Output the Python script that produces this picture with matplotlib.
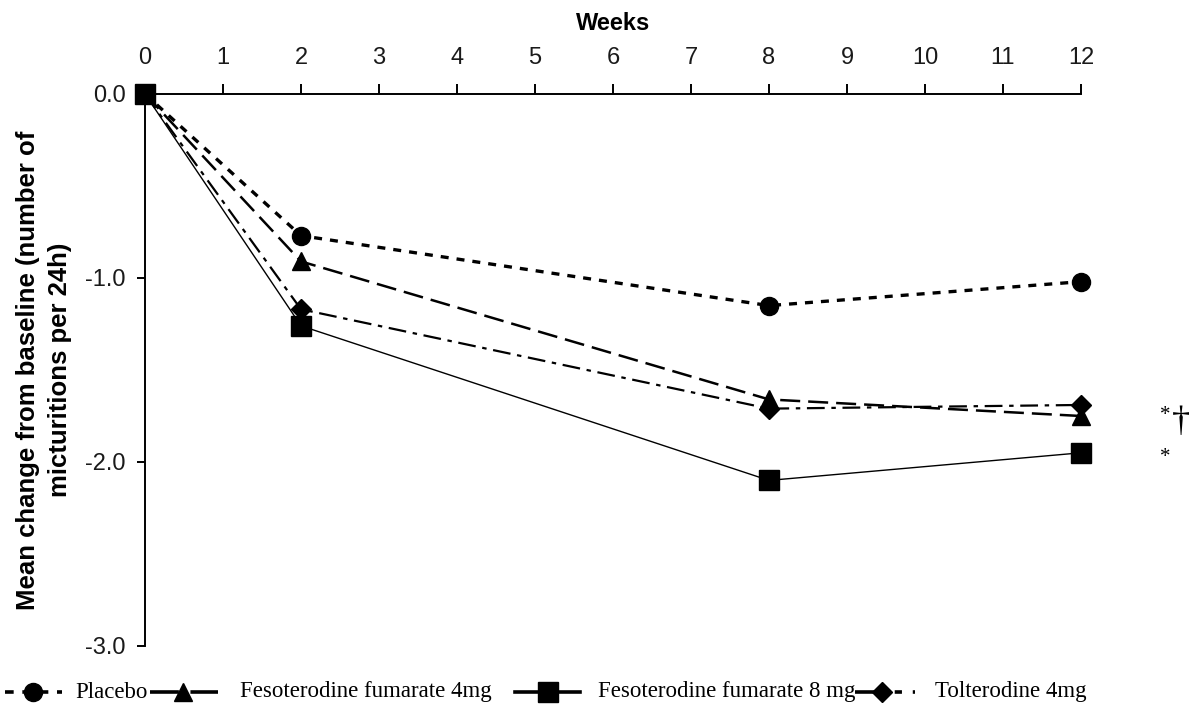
import matplotlib.pyplot as plt
from matplotlib.lines import Line2D

weeks = [0, 2, 8, 12]
placebo = [0.0, -0.77, -1.15, -1.02]
feso4 = [0.0, -0.91, -1.66, -1.75]
feso8 = [0.0, -1.26, -2.10, -1.95]
tolt4 = [0.0, -1.17, -1.71, -1.69]

xticks = list(range(13))
yticks = [0.0, -1.0, -2.0, -3.0]
ytick_labels = ['0.0', '-1.0', '-2.0', '-3.0']

# name, values, linestyle, marker, markersize, linewidth
series = [
    ('Placebo', placebo, (0, (2.4, 2.4)), 'o', 13, 2.4),
    ('Fesoterodine fumarate 4mg', feso4, (0, (8, 3.2)), '^', 13, 1.8),
    ('Fesoterodine fumarate 8 mg', feso8, '-', 's', 15, 1.0),
    ('Tolterodine 4mg', tolt4, (0, (8, 3, 2, 3)), 'D', 10, 1.6),
]

W, H = 1194, 709
fig = plt.figure(figsize=(W / 100, H / 100), dpi=100)
ax = fig.add_axes([145 / W, 1 - 646 / H, 936 / W, 552 / H])

for name, vals, ls, mk, ms, lw in series:
    ax.plot(weeks, vals, color='black', linestyle=ls, linewidth=lw,
            marker=mk, markersize=ms, clip_on=False, zorder=3)

ax.set_xlim(0, 12)
ax.set_ylim(-3.0, 0.0)
ax.xaxis.tick_top()
ax.xaxis.set_label_position('top')
ax.set_xticks(xticks)
ax.set_yticks(yticks)
ax.set_yticklabels(ytick_labels)
for s in ['bottom', 'right']:
    ax.spines[s].set_visible(False)
for s in ['top', 'left']:
    ax.spines[s].set_linewidth(1.4)
ax.tick_params(axis='x', direction='out', length=7, width=1.4, labelsize=17, pad=11)
ax.tick_params(axis='y', direction='out', length=6, width=1.4, labelsize=17, pad=8)
for lab in ax.get_xticklabels() + ax.get_yticklabels():
    lab.set_family('Liberation Sans')
    lab.set_color('#1a1a1a')

ax.set_xlabel('Weeks', fontsize=17, fontweight='bold', family='Liberation Sans', labelpad=12)
ax.set_ylabel('Mean change from baseline (number of\nmicturitions per 24h)', fontsize=18.5,
              fontweight='bold', family='Liberation Sans', linespacing=1.4)
ax.yaxis.set_label_coords(-0.078, 0.5)

ax.text(13.01, -1.77, '*', fontsize=15, family='Liberation Serif', ha='left', va='baseline', clip_on=False)
ax.text(13.17, -1.83, '†', fontsize=26, family='Liberation Serif', ha='left', va='baseline', clip_on=False)
ax.text(13.01, -2.0, '*', fontsize=15, family='Liberation Serif', ha='left', va='baseline', clip_on=False)

# legend row along the bottom
leg_y = 1 - 692 / H
leg_items = [(5, 62, 33, 75), (150, 218, 183, 240), (515, 580, 548, 598), (855, 915, 882, 935)]
for (name, vals, ls, mk, ms, lw), (x0, x1, xm, xt) in zip(series, leg_items):
    fig.add_artist(Line2D([x0 / W, x1 / W], [leg_y, leg_y], transform=fig.transFigure,
                          color='black', linestyle=ls, linewidth=max(lw, 2.6)))
    fig.add_artist(Line2D([xm / W], [leg_y], transform=fig.transFigure, color='black',
                          marker=mk, markersize=ms, linestyle='none'))
    fig.text(xt / W, leg_y, name, family='Liberation Serif', fontsize=16.5, ha='left', va='center')

fig.savefig('out.png', dpi=100)
